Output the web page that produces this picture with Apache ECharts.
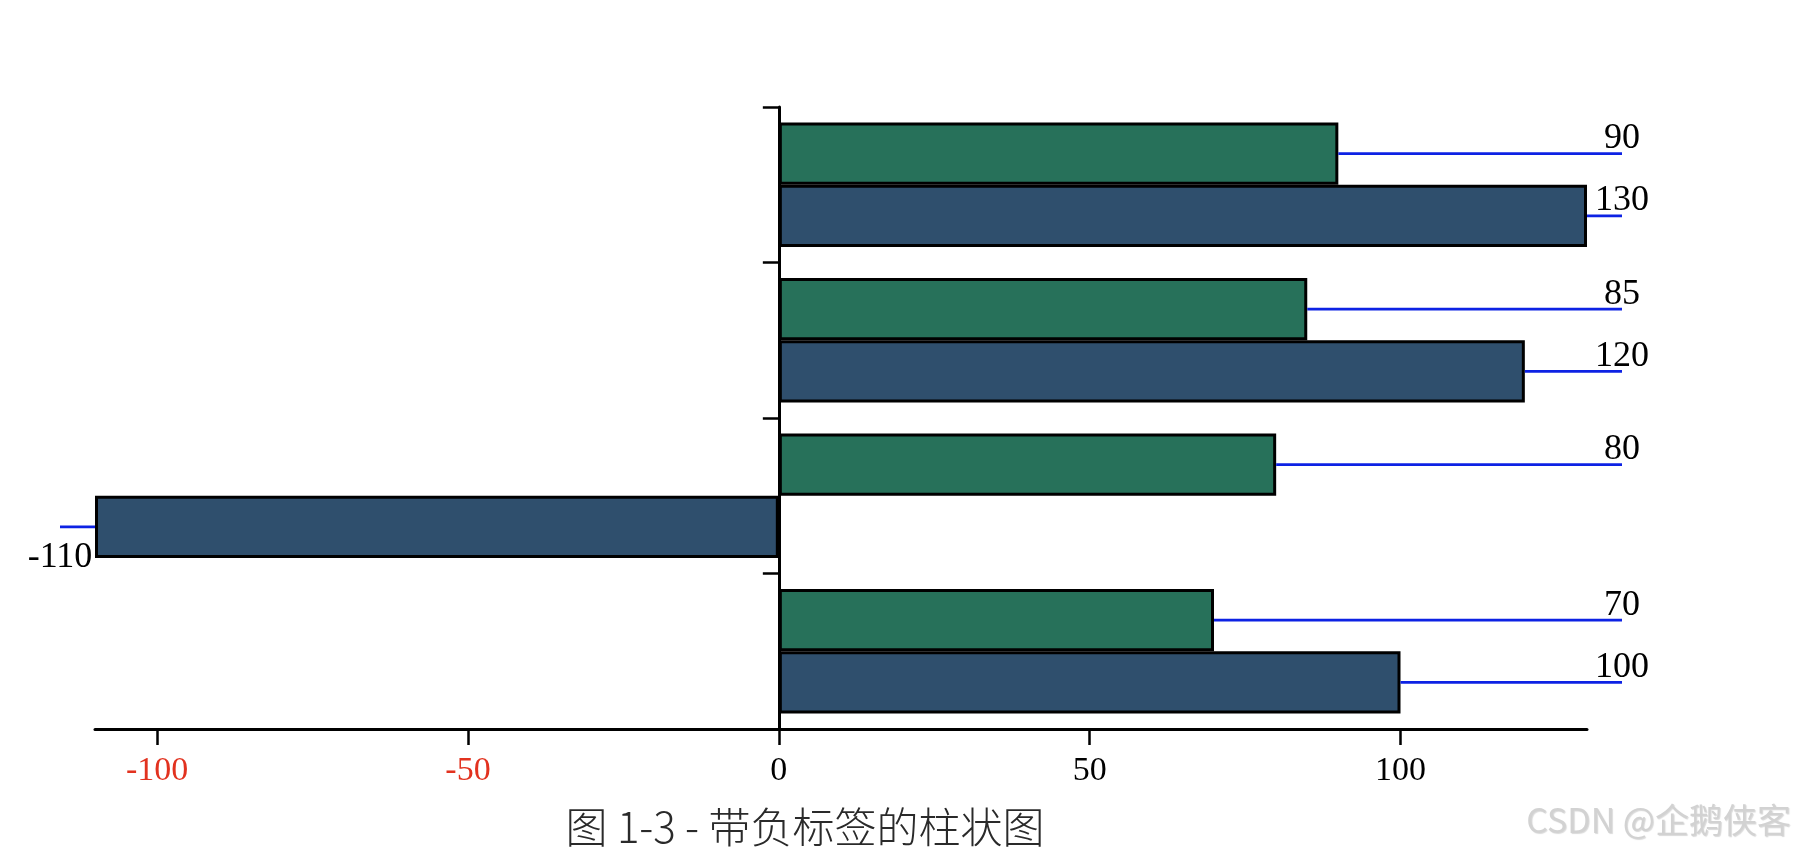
<!DOCTYPE html>
<html><head><meta charset="utf-8">
<script src="https://cdn.jsdelivr.net/npm/echarts@6/dist/echarts.min.js"></script>
<style>html,body{margin:0;padding:0;background:#fff}#c{width:1798px;height:848px}</style>
</head><body><div id="c"></div>
<script>
const categories = ['A', 'B', 'C', 'D'];
const seriesBlue = [100, -110, 120, 130];
const seriesGreen = [70, 80, 85, 90];
const xTicks = [-100, -50, 0, 50, 100];
const caption = '图 1-3 - 带负标签的柱状图';
const watermark = 'CSDN @企鹅侠客';

const allVals = seriesBlue.concat(seriesGreen);
const xMin = Math.min(...allVals);
const xMax = Math.max(...allVals);
const SERIF = '"Liberation Serif", "Times New Roman", serif';

function labelSeries(values, sign) {
  return {
    type: 'custom', coordinateSystem: 'cartesian2d', clip: false, z: 10, silent: true,
    data: values.map((v, i) => [v, i]),
    encode: { x: 0, y: 1 },
    renderItem(params, api) {
      const v = api.value(0), c = api.value(1);
      const p = api.coord([v, c]);
      const band = api.size([0, 1])[1];
      const y = p[1] + sign * band * 0.2;
      const pos = v >= 0;
      const xEnd = pos ? api.coord([xMax, c])[0] + 35 : p[0] - 35;
      return { type: 'group', children: [
        { type: 'line', shape: { x1: p[0], y1: y, x2: xEnd, y2: y }, style: { stroke: '#0d22e4', lineWidth: 2.8 } },
        { type: 'text', x: xEnd, y: pos ? y + 3 : y + 13,
          style: { text: String(v), fill: '#000', font: '36px ' + SERIF, align: 'center', verticalAlign: pos ? 'bottom' : 'top' } }
      ]};
    }
  };
}

const chart = echarts.init(document.getElementById('c'), null, { renderer: 'canvas' });
chart.setOption({
  animation: false,
  backgroundColor: '#fff',
  grid: { left: 95, right: 211, top: 107, bottom: 119, outerBoundsMode: 'none' },
  xAxis: {
    type: 'value', min: xMin, max: xMax, position: 'bottom',
    axisLine: { show: true, onZero: false, lineStyle: { color: '#000', width: 3 } },
    axisTick: { show: true, customValues: xTicks, length: 16, lineStyle: { color: '#000', width: 2.5 } },
    axisLabel: { customValues: xTicks, margin: 25, fontFamily: SERIF, fontSize: 34,
      color: (v) => (Number(v) < 0 ? '#e2321f' : '#000') },
    splitLine: { show: false }
  },
  yAxis: {
    type: 'category', data: categories,
    axisLine: { show: true, onZero: true, lineStyle: { color: '#000', width: 3 } },
    axisTick: { show: true, length: 16, lineStyle: { color: '#000', width: 2.5 } },
    axisLabel: { show: false },
    splitLine: { show: false }
  },
  series: [
    { type: 'bar', name: 'green', data: seriesGreen, barGap: '0%', barCategoryGap: '20%',
      itemStyle: { color: '#27715a', borderColor: '#000', borderWidth: 3 } },
    { type: 'bar', name: 'blue', data: seriesBlue, barGap: '0%', barCategoryGap: '20%',
      itemStyle: { color: '#2f4f6d', borderColor: '#000', borderWidth: 3 } },
    labelSeries(seriesGreen, -1),
    labelSeries(seriesBlue, 1)
  ],
  graphic: [
    { type: 'text', x: 805, y: 827, z: 20,
      style: { text: caption, fill: '#2a2a2a', font: '300 42px "Noto Sans CJK SC", sans-serif', align: 'center', verticalAlign: 'middle' } },
    { type: 'text', x: 1791, y: 820, z: 20,
      style: { text: watermark, fill: '#d2d2d2', font: '34px "Noto Sans CJK SC", sans-serif', align: 'right', verticalAlign: 'middle',
        textShadowColor: 'rgba(0,0,0,0.15)', textShadowBlur: 1, textShadowOffsetX: 1, textShadowOffsetY: 1 } }
  ]
});
</script></body></html>
